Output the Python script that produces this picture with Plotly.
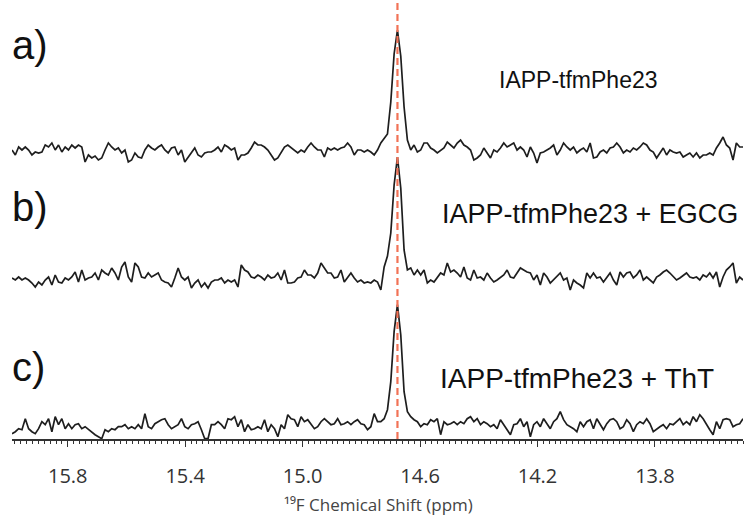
import numpy as np
import plotly.graph_objects as go

# 19F spectra (intensity, arbitrary units), sampled evenly from 15.99 to 13.50 ppm
spec_a = [
    2, -3, 5, 2, 5, 2, -3, 0, -1, 0,
    7, 5, 9, 2, 7, 0, 5, 2, 7, 4,
    7, 5, -10, -3, -6, -4, -8, -6, 2, 9,
    5, 2, 4, -1, 2, -10, -8, -1, -5, -6,
    2, 7, 4, 2, 5, 7, 2, -1, 4, 5,
    -3, 2, -10, -5, -1, 4, -3, -5, -1, 0,
    0, 2, 5, 0, 7, 5, 2, 4, -8, -3,
    -3, -1, 4, 10, 7, 7, 5, 2, -3, -8,
    -6, -1, 5, 7, 4, 2, -1, 2, 0, 5,
    9, 5, 2, 2, -5, 4, 2, 4, 2, 4,
    5, 9, 5, -3, 2, 2, 0, 2, 0, -3,
    2, 9, 14,
    18, 50, 98, 122, 96, 45, 12,
    2, 7, 0, 2, 9, 9, 4, 2, -1, 2,
    4, 10, 7, 4, 9, 12, 7, 5, 2, -8,
    -6, -3, 4, -1, -6, 2, 0, 4, 9, 5,
    7, 9, 2, 5, 2, -5, 5, -1, -11, -1,
    0, 2, 4, 7, -3, 2, 9, 5, 2, 5,
    -1, 2, 4, 0, 9, -6, -5, 0, 2, -1,
    4, 5, 9, 5, -1, 2, 0, 4, 2, 5,
    9, 7, 2, 0, -6, -1, 4, -3, 2, 0,
    -1, 0, -5, -3, -1, -5, -1, -6, -3, -3,
    -1, -3, 4, 9, 15, 7, 4, -8, 9, 5,
    5,
]

spec_b = [
    2, 0, 3, 0, 2, 0, -3, -7, -2, -5,
    0, 3, -5, 5, -2, -3, 2, 0, 3, 8,
    -2, 10, 0, 2, 3, 7, 0, 10, 7, 5,
    12, 7, 0, 13, 18, 3, -2, 17, 13, 3,
    2, 7, 3, 5, 7, 0, -2, -3, -7, 2,
    12, 3, 0, 3, -8, -3, 0, -7, -3, -8,
    -2, 0, 0, 2, -3, 0, -2, 0, -7, 15,
    10, 8, 3, 2, 5, 3, 0, 5, 2, 3,
    7, 0, 10, -3, -3, -2, 2, 3, 10, 5,
    5, 2, 7, 17, 12, 7, 7, 2, 3, 10,
    -2, 3, 7, 2, -2, 0, -3, -2, -3, 0,
    -2, -10, 13,
    24, 47, 95, 123, 92, 30, 10,
    12, 5, 10, 5, 10, -3, 0, -2, 3, 7,
    5, 17, 8, 10, 7, 3, 13, 2, 0, 10,
    2, 3, 0, 7, 2, -2, 0, 3, 5, 10,
    3, 2, 7, 12, 10, 8, 7, 0, 5, -5,
    7, 3, -3, 0, 3, 7, 0, 2, -10, 0,
    -3, -5, -8, 7, 2, 7, 2, 3, -2, 3,
    7, 0, -5, 8, 3, 7, 8, 2, 5, 10,
    0, 3, 0, -3, 3, 5, 8, 10, 7, 3,
    0, 2, 5, 7, 3, 2, 3, 0, 5, 3,
    7, 2, 8, -7, 3, 10, 13, 17, -3, 3,
    0,
]

spec_c = [
    -7, -5, -2, -3, 8, -2, -5, -7, -2, 5,
    2, 8, -5, 10, 2, 8, -2, 3, -2, 2,
    3, -2, 0, -3, -5, -8, -10, -12, -3, -5,
    -2, -3, 0, 0, 2, -2, 0, -2, 2, -2,
    13, 0, -2, 3, 5, 7, 8, 2, -2, 0,
    2, 8, 0, -2, 2, 3, 5, -3, -12, -12,
    2, 2, 5, 2, -2, 8, 7, 10, 0, 7,
    -5, 2, -3, -2, 0, -2, 7, -5, 2, -2,
    -10, 2, -2, 12, 8, 7, 0, 10, 5, 7,
    2, -2, 0, 5, 8, 5, 2, 3, 8, 2,
    3, 5, 2, 5, 7, 3, 2, -3, 0, 13,
    5, 5, 8,
    17, 45, 95, 122, 92, 35, 15,
    10, 7, 5, 0, 3, 2, 7, 5, 8, -8,
    5, 2, 3, 5, 2, 5, 3, 8, 10, 5,
    8, 2, 5, 3, 0, 2, -2, 7, 2, -3,
    -8, 2, 3, 8, 0, 5, -10, 2, 5, 0,
    8, 3, -2, 5, 8, 15, 7, 2, 0, -2,
    -5, 5, 0, 5, 7, -2, 8, 2, -3, 3,
    7, 8, 5, -2, 0, 7, 3, -5, 2, 5,
    3, 8, 3, -5, -2, 0, 2, -2, 3, 2,
    5, 8, 2, 5, 2, 10, 5, 12, 8, 2,
    -3, -8, 5, -2, 7, 8, 7, 0, 2, 3,
    8,
]

panel_tags = ["a)", "b)", "c)"]
sample_names = ["IAPP-tfmPhe23", "IAPP-tfmPhe23 + EGCG", "IAPP-tfmPhe23 + ThT"]
tick_labels = [15.8, 15.4, 15.0, 14.6, 14.2, 13.8]
axis_title = "¹⁹F Chemical Shift (ppm)"
peak_shift = 14.677  # ppm, marked with the dashed guide

PPM_START, PPM_END = 15.99, 13.50
ppm = np.linspace(PPM_START, PPM_END, len(spec_a))

# vertical stacking of the three spectra
offsets = [287, 159, 12.3]
spectra = [spec_a, spec_b, spec_c]

W, H = 745, 516
ML, MR, MT, MB = 12, 2, 0, 77
PW, PH = W - ML - MR, H - MT - MB


def px(x):
    return (x - ML) / PW


def py(y):
    return (PH - (y - MT)) / PH


fig = go.Figure()
for spec, off in zip(spectra, offsets):
    fig.add_trace(go.Scatter(
        x=ppm, y=np.asarray(spec, dtype=float) + off,
        mode="lines", line=dict(color="#1e1e1e", width=1.7),
        hoverinfo="skip", showlegend=False,
    ))

fig.add_shape(type="line", xref="x", yref="paper",
              x0=peak_shift, x1=peak_shift, y0=0, y1=1,
              line=dict(color="#f27256", width=2.2, dash="7px,4px"),
              layer="above")

# panel tags on the left, sample names on the right
tag_y = [45, 207, 367]
for tag, ty in zip(panel_tags, tag_y):
    fig.add_annotation(text=tag, xref="paper", yref="paper",
                       x=px(10), y=py(ty), xanchor="left", yanchor="middle",
                       showarrow=False,
                       font=dict(family="Liberation Sans, Arial", size=40, color="#111"))

name_pos = [(578, 80, 23), (590, 214, 27), (577, 378, 28)]
for name, (nx, ny, fs) in zip(sample_names, name_pos):
    fig.add_annotation(text=name, xref="paper", yref="paper",
                       x=px(nx), y=py(ny), xanchor="center", yanchor="middle",
                       showarrow=False,
                       font=dict(family="Liberation Sans, Arial", size=fs, color="#111"))

# axis title below the tick labels
fig.add_annotation(text=axis_title, xref="paper", yref="paper",
                   x=px(378), y=py(504), xanchor="center", yanchor="middle",
                   showarrow=False,
                   font=dict(family="Open Sans", size=17, color="#444"))

# labelled ticks every 0.4 ppm, longer unlabelled ticks every 0.1, fine ticks every 0.02
tenth_ticks = [round(15.9 - 0.1 * k, 1) for k in range(25)]

fig.update_xaxes(
    range=[PPM_START, PPM_END],
    showgrid=False, zeroline=False,
    showline=True, linecolor="#333", linewidth=1.5,
    ticks="outside", ticklen=6, tickwidth=1.2, tickcolor="#333",
    tickmode="array", tickvals=tick_labels,
    ticktext=[f"{v:.1f}" for v in tick_labels],
    ticklabelstandoff=12,
    tickfont=dict(family="Open Sans", size=20, color="#333"),
    minor=dict(dtick=0.02, tick0=13.5, ticks="outside", ticklen=3,
               tickwidth=1, tickcolor="#333", showgrid=False),
)
fig.update_layout(
    xaxis2=dict(
        overlaying="x", anchor="y", side="bottom",
        range=[PPM_START, PPM_END],
        showgrid=False, zeroline=False, showline=False,
        tickmode="array", tickvals=tenth_ticks, showticklabels=False,
        ticks="outside", ticklen=6, tickwidth=1.2, tickcolor="#333",
    ),
)
fig.update_yaxes(range=[0, PH], visible=False, fixedrange=True)

fig.update_layout(
    width=W, height=H,
    margin=dict(l=ML, r=MR, t=MT, b=MB),
    paper_bgcolor="white", plot_bgcolor="white",
)

fig.write_html("out.html")
